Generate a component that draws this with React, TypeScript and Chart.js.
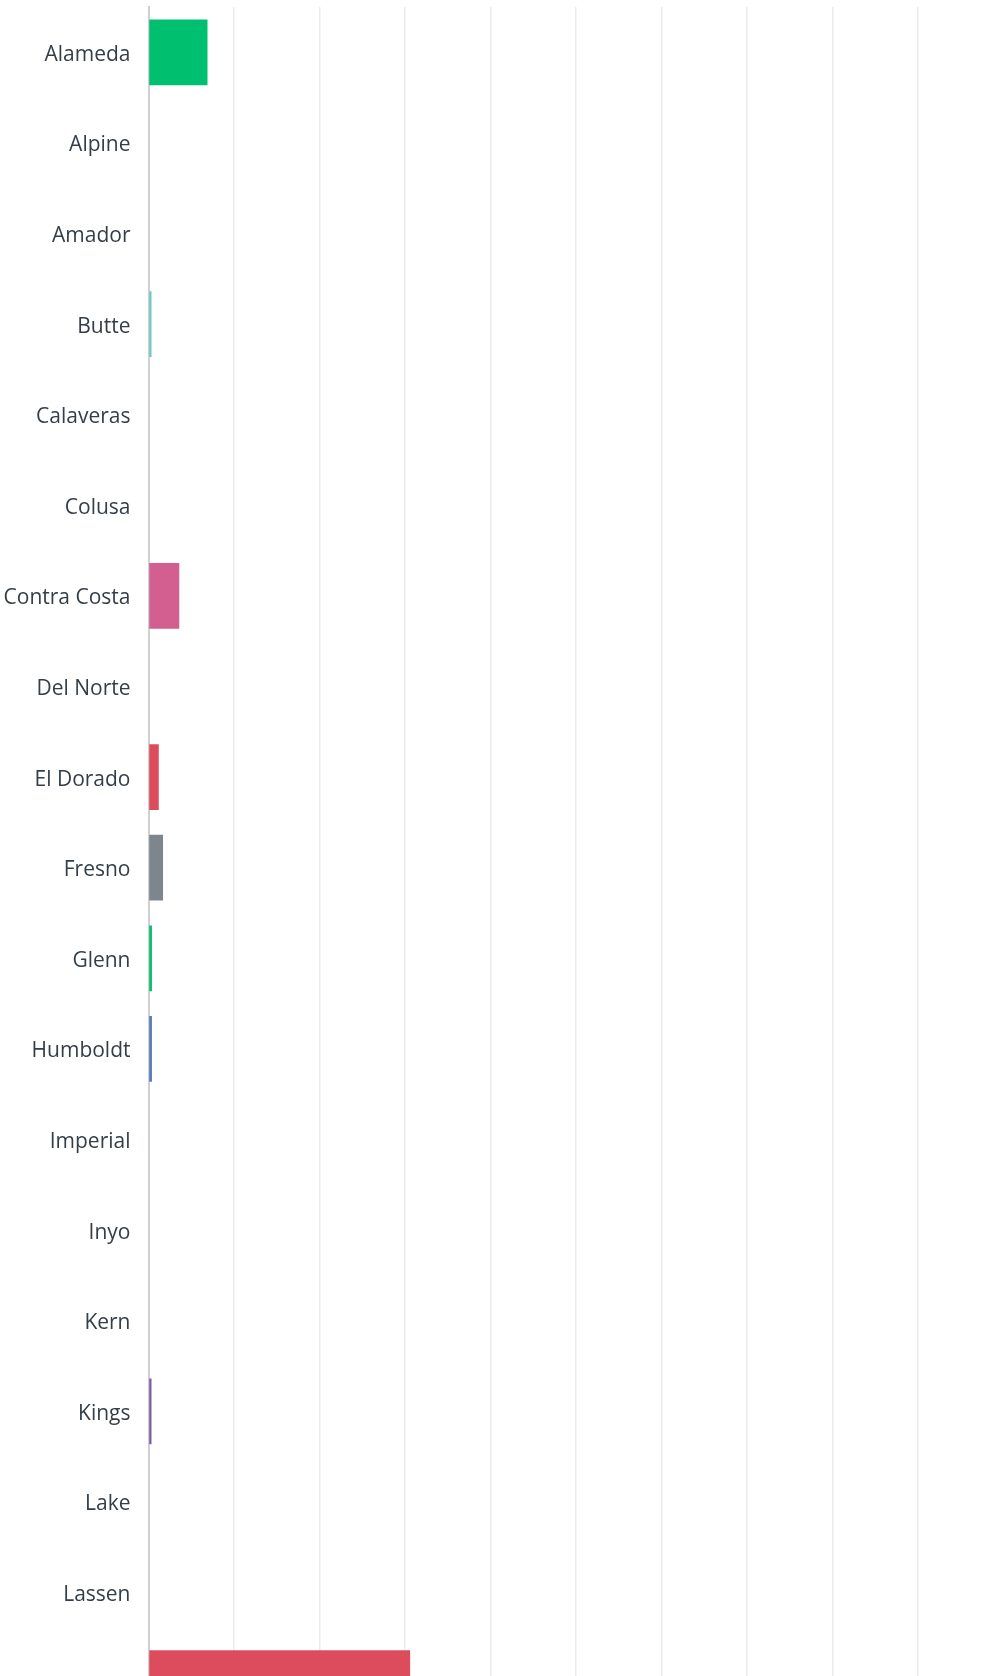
import React, { useEffect, useRef } from "react";
import { Chart, registerables } from "chart.js";

Chart.register(...registerables);

const counties = [
  "Alameda",
  "Alpine",
  "Amador",
  "Butte",
  "Calaveras",
  "Colusa",
  "Contra Costa",
  "Del Norte",
  "El Dorado",
  "Fresno",
  "Glenn",
  "Humboldt",
  "Imperial",
  "Inyo",
  "Kern",
  "Kings",
  "Lake",
  "Lassen",
  "Los Angeles",
];

const shares = [6.9, 0, 0, 0.35, 0, 0, 3.6, 0, 1.2, 1.7, 0.4, 0.4, 0, 0, 0, 0.35, 0, 0, 30.6];

const barColors = [
  "#00bf6f",
  "#507cb6",
  "#6bc8cd",
  "#6bc8cd",
  "#f9be00",
  "#ff8b4f",
  "#d25f90",
  "#7d5ba6",
  "#dc4c5c",
  "#7d868c",
  "#00bf6f",
  "#507cb6",
  "#6bc8cd",
  "#f9be00",
  "#ff8b4f",
  "#7d5ba6",
  "#d25f90",
  "#7d868c",
  "#dc4c5c",
];

const xTicks = [0, 10, 20, 30, 40, 50, 60, 70, 80, 90, 100];

export default function App() {
  const canvasRef = useRef<HTMLCanvasElement | null>(null);

  useEffect(() => {
    if (!canvasRef.current) return;
    const chart = new Chart(canvasRef.current, {
      type: "bar",
      data: {
        labels: counties,
        datasets: [
          {
            data: shares,
            backgroundColor: barColors,
            borderWidth: 0,
            categoryPercentage: 1,
            barPercentage: 0.725,
          },
        ],
      },
      options: {
        indexAxis: "y",
        animation: false,
        responsive: false,
        maintainAspectRatio: false,
        layout: { padding: { top: 7, bottom: 7.6, left: 0, right: 1.5 } },
        plugins: { legend: { display: false }, tooltip: { enabled: false } },
        scales: {
          x: {
            min: xTicks[0],
            max: xTicks[xTicks.length - 1],
            afterBuildTicks: (scale: any) => {
              scale.ticks = xTicks.map((v) => ({ value: v }));
            },
            afterFit: (scale: any) => {
              scale.height = 0;
              scale.paddingLeft = 0;
              scale.paddingRight = 0;
            },
            ticks: { display: false },
            grid: { color: "#ebebeb", lineWidth: 1.5, drawTicks: false },
            border: { display: false },
          },
          y: {
            afterFit: (scale: any) => {
              scale.width = 148.5;
              scale.paddingTop = 0;
              scale.paddingBottom = 0;
            },
            ticks: {
              padding: 18,
              labelOffset: 2.5,
              color: "#333e48",
              font: { family: "'Open Sans'", size: 21 },
            },
            grid: { display: false, drawTicks: false },
            border: { display: true, color: "#d0d0d0", width: 2 },
          },
        },
      },
    });
    return () => chart.destroy();
  }, []);

  return (
    <div
      style={{
        position: "fixed",
        left: 0,
        top: 0,
        width: 995,
        height: 1676,
        overflow: "hidden",
        background: "#ffffff",
      }}
    >
      <canvas ref={canvasRef} width={1005} height={1736} style={{ display: "block" }} />
    </div>
  );
}
